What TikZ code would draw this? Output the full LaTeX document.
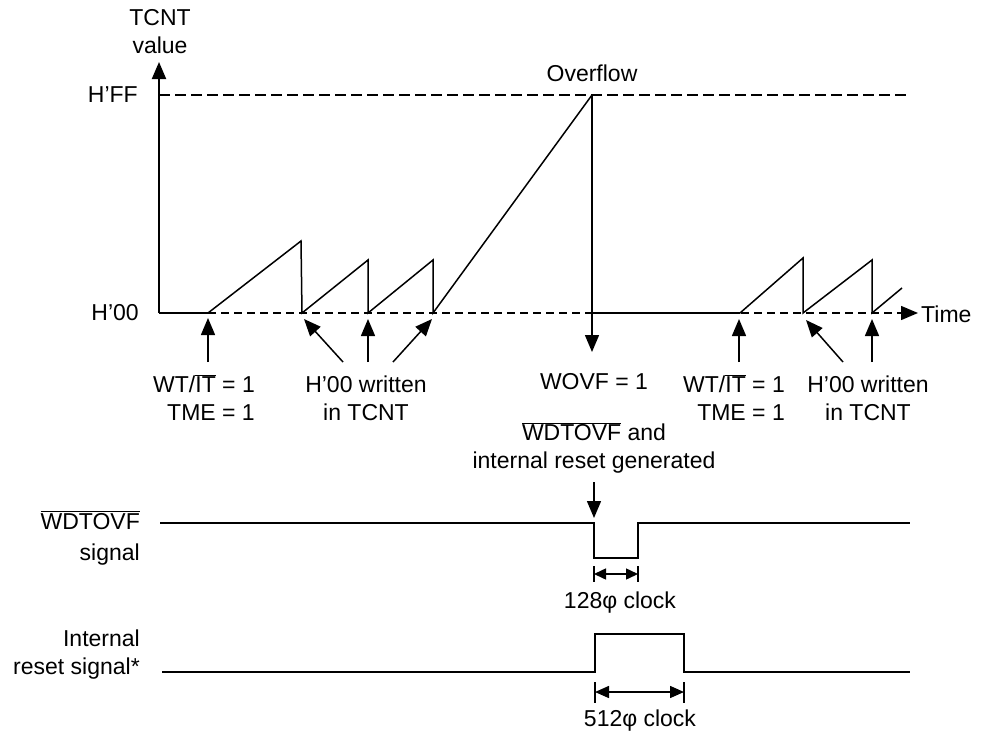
\documentclass[tikz,border=0pt]{standalone}
\usepackage{fontspec}
\setmainfont{Liberation Sans}
\usetikzlibrary{arrows.meta}
\newcommand\ovl[1]{$\overline{\mbox{#1}}$}
\begin{document}
\begin{tikzpicture}[x=1pt,y=-1pt,
  lbl/.style={font=\fontsize{23}{28}\selectfont, inner sep=0pt},
  sig/.style={line width=1.7pt, line join=miter},
  thin/.style={line width=1.5pt},
  arr/.style={-{Triangle[length=17pt,width=14pt]}, line width=1.5pt},
  darr/.style={{Triangle[length=14pt,width=12pt]}-{Triangle[length=14pt,width=12pt]}, line width=1.5pt},
  sdarr/.style={{Triangle[length=12pt,width=11pt]}-{Triangle[length=12pt,width=11pt]}, line width=1.5pt},
  longdash/.style={line width=1.6pt, dash pattern=on 11pt off 5pt},
  shortdash/.style={line width=1.6pt, dash pattern=on 8pt off 5pt},
]
\useasboundingbox (0,0) rectangle (983,736);

% coordinates
\coordinate (o) at (159,313);
\coordinate (ytop) at (159,62);
\coordinate (s0) at (208,313);
\coordinate (ovf) at (592,95);
\coordinate (ovb) at (592,313);
\coordinate (r0) at (740,313);
\coordinate (tend) at (903,313);
\coordinate (ttip) at (918,313);

% axes
\draw[arr, line width=1.9pt] (o) -- (ytop);
\draw[longdash] (159,95) -- (908,95);
\draw[sig] (o) -- (s0);
\draw[shortdash] (s0) -- (tend);
\draw[arr] (898,313) -- (ttip);

% TCNT curve
\draw[thin] (s0) -- (301,241) -- (302,313) -- (368,260) -- (368,313) -- (433,260) -- (433,313) -- (ovf);
\draw[sig] (ovb) -- (r0);
\draw[thin] (r0) -- (803,258) -- (803,313) -- (872,260) -- (872,313) -- (902,288);
\coordinate (wovfa) at (592,352);
\draw[arr] (ovf) -- (wovfa);

% axis labels
\node[lbl, align=center] (tcnt) at (160,32) {TCNT\\value};
\node[lbl, anchor=east] (hff) at (138,95) {H'FF};
\node[lbl, anchor=east] (h00) at (139,313) {H'00};
\node[lbl] (ovlabel) at (592,73) {Overflow};
\node[lbl, anchor=west] (time) at (921,314) {Time};

% event labels
\node[lbl, align=right, anchor=east] (wt1) at (255,398) {WT/\ovl{IT} = 1\\TME = 1};
\node[lbl, align=center] (h1) at (366,398) {H'00 written\\in TCNT};
\node[lbl] (wovf) at (594,382) {WOVF = 1};
\node[lbl, align=right, anchor=east] (wt2) at (785,398) {WT/\ovl{IT} = 1\\TME = 1};
\node[lbl, align=center] (h2) at (868,398) {H'00 written\\in TCNT};

% event arrows
\coordinate (e1) at (208,318);
\coordinate (e2) at (304,319);
\coordinate (e3) at (368,319);
\coordinate (e4) at (432,319);
\coordinate (e6) at (739,319);
\coordinate (e7) at (806,320);
\coordinate (e8) at (872,319);
\draw[arr] (208,362) -- (e1);
\draw[arr] (343,362) -- (e2);
\draw[arr] (368,362) -- (e3);
\draw[arr] (393,362) -- (e4);
\draw[arr] (739,362) -- (e6);
\draw[arr] (843,362) -- (e7);
\draw[arr] (872,362) -- (e8);

% reset generated
\node[lbl, align=center] (gen) at (594,448) {\ovl{WDTOVF} and\\internal reset generated};
\coordinate (gtip) at (594,518);
\draw[arr] (594,482) -- (gtip);

% WDTOVF signal
\node[lbl, align=right, anchor=east] (wdl) at (140,538) {\ovl{WDTOVF}\\[3pt]signal};
\draw[sig] (160,523) -- (594,523) -- (594,558) -- (638,558) -- (638,523) -- (910,523);
\draw[thin] (594,566) -- (594,582);
\draw[thin] (638,566) -- (638,582);
\coordinate (d1a) at (594,574);
\coordinate (d1b) at (638,574);
\draw[sdarr] (d1a) -- (d1b);
\node[lbl] (c128) at (620,603) {128φ clock};

% Internal reset signal
\node[lbl, align=right, anchor=east] (irl) at (140,655) {Internal\\reset signal*};
\draw[sig] (162,672) -- (595,672) -- (595,634) -- (684,634) -- (684,672) -- (910,672);
\draw[thin] (595,682) -- (595,703);
\draw[thin] (684,682) -- (684,703);
\coordinate (d2a) at (595,692);
\coordinate (d2b) at (684,692);
\draw[darr] (d2a) -- (d2b);
\node[lbl] (c512) at (640,721) {512φ clock};
\end{tikzpicture}
\end{document}
